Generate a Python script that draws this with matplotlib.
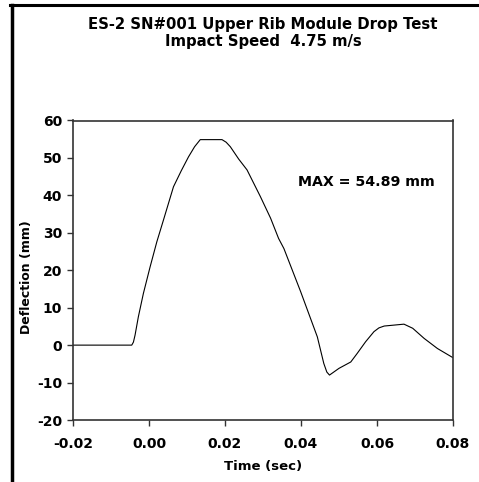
import matplotlib
matplotlib.use("Agg")
import matplotlib.pyplot as plt
from matplotlib.lines import Line2D

plt.rcParams['font.family'] = ['DejaVu Sans']
plt.rcParams['axes.unicode_minus'] = False

time_s = [-0.02, -0.00454, -0.0041, -0.00367, -0.0028, -0.00148, 0.00029, 0.00206, 0.0038,
          0.00644, 0.0085, 0.0104, 0.0120, 0.01349, 0.01921, 0.0203, 0.0214, 0.0236, 0.0258,
          0.0293, 0.0320, 0.0341, 0.0355, 0.0399, 0.0443, 0.0460, 0.0468, 0.0475, 0.0500,
          0.0531, 0.0548, 0.0570, 0.0592, 0.0605, 0.0619, 0.0671, 0.0694, 0.0724, 0.0759,
          0.0799]
deflection_mm = [0, 0, 0.8, 2.67, 7.57, 13.8, 20.9, 27.6, 33.4,
                 42.3, 46.6, 50.3, 53.0, 54.89, 54.89, 54.2, 53.0, 49.7, 46.8,
                 39.7, 33.9, 28.5, 25.8, 14.3, 2.2, -4.9, -7.2, -8.0, -6.2,
                 -4.5, -2.2, 0.9, 3.6, 4.6, 5.1, 5.6, 4.5, 1.8, -0.9,
                 -3.3]

title = "ES-2 SN#001 Upper Rib Module Drop Test\nImpact Speed  4.75 m/s"
annotation = "MAX = 54.89 mm"
xticks = [-0.02, 0.00, 0.02, 0.04, 0.06, 0.08]
yticks = [-20, -10, 0, 10, 20, 30, 40, 50, 60]

W, H = 479, 482
fig = plt.figure(figsize=(W/100, H/100), dpi=100)
ax = fig.add_axes([73/W, 1-420/H, (453-73)/W, (420-120.5)/H])

ax.plot(time_s, deflection_mm, color='black', lw=0.8)
ax.set_xlim(-0.02, 0.08)
ax.set_ylim(-20, 60)
ax.set_xticks(xticks)
ax.set_xticklabels([f"{v:.2f}" for v in xticks])
ax.set_yticks(yticks)
ax.tick_params(direction='out', length=4, width=1, colors='#333333', labelcolor='black',
               labelsize=10, pad=4)
ax.tick_params(axis='x', pad=8)
for lab in ax.get_xticklabels() + ax.get_yticklabels():
    lab.set_fontweight('bold')
for s in ax.spines.values():
    s.set_color('#333333')
    s.set_linewidth(1.2)

ax.set_xlabel("Time (sec)", fontsize=9.5, fontweight='bold', labelpad=7)
ax.set_ylabel("Deflection (mm)", fontsize=9, fontweight='bold')
ax.yaxis.set_label_coords(-0.106, 0.476)
ax.text(0.0393, 43.6, annotation, fontsize=10.2, fontweight='bold', va='center', ha='left')

fig.text(263/W, 1-33/H, title, ha='center', va='center', fontsize=10.7, fontweight='bold',
         linespacing=1.2)

# frame lines on top and left
fig.add_artist(Line2D([10/W, 1], [1-5.3/H, 1-5.3/H], transform=fig.transFigure,
                      color='black', lw=2.2))
fig.add_artist(Line2D([12/W, 12/W], [0, 1-4.5/H], transform=fig.transFigure,
                      color='black', lw=2.5))

fig.savefig("out.png", dpi=100)
